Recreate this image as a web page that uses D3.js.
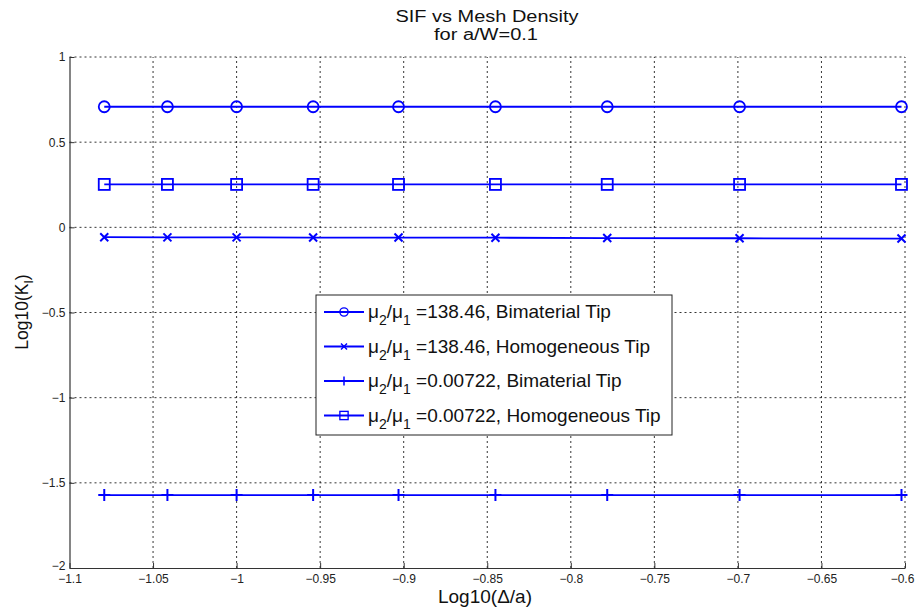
<!DOCTYPE html>
<html>
<head>
<meta charset="utf-8">
<script src="https://cdn.jsdelivr.net/npm/d3@7"></script>
<style>
  body { margin: 0; background: #fff; }
  svg { font-family: "Liberation Sans", Arial, sans-serif; }
  .grid line { stroke: #000; stroke-dasharray: 2,3; stroke-width: 0.8; }
  .tick text { fill: #222; font-size: 12px; }
</style>
</head>
<body>
<div id="chart"></div>
<script>
// log10 of element size ratio (1/12 ... 1/4)
var xValues = [-1.0792, -1.0414, -1.0, -0.9542, -0.9031, -0.8451, -0.7782, -0.6990, -0.6021];

var bimatHigh = [0.708, 0.708, 0.708, 0.708, 0.708, 0.708, 0.708, 0.708, 0.708];
var homoHigh  = [-0.058, -0.059, -0.059, -0.060, -0.060, -0.061, -0.063, -0.064, -0.066];
var bimatLow  = [-1.572, -1.572, -1.572, -1.572, -1.572, -1.572, -1.572, -1.572, -1.572];
var homoLow   = [0.252, 0.252, 0.252, 0.252, 0.252, 0.252, 0.252, 0.252, 0.252];

var seriesNames = [
  ["=138.46, Bimaterial Tip", "circle"],
  ["=138.46, Homogeneous Tip", "cross"],
  ["=0.00722, Bimaterial Tip", "plus"],
  ["=0.00722, Homogeneous Tip", "square"]
];
var seriesValues = [bimatHigh, homoHigh, bimatLow, homoLow];

var xTicks = [-1.1, -1.05, -1, -0.95, -0.9, -0.85, -0.8, -0.75, -0.7, -0.65, -0.6];
var yTicks = [-2, -1.5, -1, -0.5, 0, 0.5, 1];

var width = 915, height = 613;
var margin = {left: 69.5, right: 10, top: 57, bottom: 45};

var svg = d3.select('#chart')
  .append('svg')
  .attr('width', width)
  .attr('height', height);

var x = d3.scaleLinear().domain([-1.1, -0.6]).range([margin.left, 905]);
var y = d3.scaleLinear().domain([-2, 1]).range([568, margin.top]);

var blue = '#0000ff';

// grid
var grid = svg.append('g').attr('class', 'grid');
grid.selectAll('.vg')
  .data(xTicks.slice(1))
  .enter().append('line')
  .attr('x1', function(d) { return x(d); })
  .attr('x2', function(d) { return x(d); })
  .attr('y1', y(-2))
  .attr('y2', y(1));
grid.selectAll('.hg')
  .data(yTicks.slice(1))
  .enter().append('line')
  .attr('x1', x(-1.1))
  .attr('x2', x(-0.6))
  .attr('y1', function(d) { return y(d); })
  .attr('y2', function(d) { return y(d); });

// axes (MATLAB style: ticks inside)
var xAxis = d3.axisBottom(x)
  .tickValues(xTicks)
  .tickFormat(d3.format('~g'))
  .tickSizeInner(-5)
  .tickSizeOuter(0)
  .tickPadding(9);
svg.append('g')
  .attr('transform', 'translate(0,' + y(-2) + ')')
  .call(xAxis)
  .call(function(g) {
    g.select('.domain').attr('stroke', '#333').attr('stroke-width', 1.2);
    g.selectAll('.tick line').attr('stroke', '#333');
    g.selectAll('.tick text').attr('dy', '0.5em');
    g.selectAll('.tick text').filter(function(d) { return d === -0.6; }).attr('dx', -3);
  });

var yAxis = d3.axisLeft(y)
  .tickValues(yTicks)
  .tickFormat(d3.format('~g'))
  .tickSizeInner(-5)
  .tickSizeOuter(0)
  .tickPadding(4);
svg.append('g')
  .attr('transform', 'translate(' + x(-1.1) + ',0)')
  .call(yAxis)
  .call(function(g) {
    g.select('.domain').attr('stroke', '#333').attr('stroke-width', 1.2);
    g.selectAll('.tick line').attr('stroke', '#333');
    g.selectAll('.tick text').filter(function(d) { return d === -2; }).attr('dy', '0.1em');
  });

// series
var line = d3.line()
  .x(function(d) { return x(d[0]); })
  .y(function(d) { return y(d[1]); });

function drawMarker(g, type, cx, cy) {
  if (type === 'circle') {
    g.append('circle').attr('cx', cx).attr('cy', cy).attr('r', 5.5)
      .attr('fill', 'none').attr('stroke', blue).attr('stroke-width', 1.8);
  } else if (type === 'square') {
    g.append('rect').attr('x', cx - 5.5).attr('y', cy - 5.5)
      .attr('width', 11).attr('height', 11)
      .attr('fill', 'none').attr('stroke', blue).attr('stroke-width', 1.8);
  } else if (type === 'cross') {
    var s = 4;
    g.append('path')
      .attr('d', 'M' + (cx - s) + ',' + (cy - s) + 'L' + (cx + s) + ',' + (cy + s) +
                 'M' + (cx - s) + ',' + (cy + s) + 'L' + (cx + s) + ',' + (cy - s))
      .attr('stroke', blue).attr('stroke-width', 2);
  } else if (type === 'plus') {
    var p = 6;
    g.append('path')
      .attr('d', 'M' + (cx - p) + ',' + cy + 'L' + (cx + p) + ',' + cy +
                 'M' + cx + ',' + (cy - p) + 'L' + cx + ',' + (cy + p))
      .attr('stroke', blue).attr('stroke-width', 2);
  }
}

seriesValues.forEach(function(vals, i) {
  var pts = xValues.map(function(xv, j) { return [xv, vals[j]]; });
  var g = svg.append('g');
  g.append('path')
    .datum(pts)
    .attr('d', line)
    .attr('fill', 'none')
    .attr('stroke', blue)
    .attr('stroke-width', 1.8);
  pts.forEach(function(p) {
    drawMarker(g, seriesNames[i][1], x(p[0]), y(p[1]));
  });
});

// legend
var legX = 316, legY = 295, legW = 356, legH = 140, rowH = 34.5;
var legend = svg.append('g');
legend.append('rect')
  .attr('x', legX).attr('y', legY)
  .attr('width', legW).attr('height', legH)
  .attr('fill', '#fff').attr('stroke', '#222').attr('stroke-width', 1);

seriesNames.forEach(function(s, i) {
  var cy = legY + 17 + i * rowH;
  var row = legend.append('g');
  row.append('line')
    .attr('x1', legX + 8).attr('x2', legX + 48)
    .attr('y1', cy).attr('y2', cy)
    .attr('stroke', blue).attr('stroke-width', 1.8);
  var mg = row.append('g').attr('transform', 'translate(' + (legX + 28) + ',' + cy + ') scale(0.75) translate(' + (-(legX + 28)) + ',' + (-cy) + ')');
  drawMarker(mg, s[1], legX + 28, cy);
  var t = row.append('text')
    .attr('x', legX + 52)
    .attr('y', cy + 6)
    .attr('font-size', '19px')
    .attr('fill', '#111');
  t.append('tspan').text('\u03bc');
  t.append('tspan').attr('font-size', '14px').attr('dy', 7).text('2');
  t.append('tspan').attr('dy', -7).text('/\u03bc');
  t.append('tspan').attr('font-size', '14px').attr('dy', 7).text('1');
  t.append('tspan').attr('dy', -7).text(' ' + s[0]);
});

// titles
svg.append('text')
  .attr('x', 487).attr('y', 22)
  .attr('text-anchor', 'middle')
  .attr('font-size', '16px')
  .attr('textLength', 183)
  .attr('lengthAdjust', 'spacingAndGlyphs')
  .attr('fill', '#111')
  .text('SIF vs Mesh Density');
svg.append('text')
  .attr('x', 486).attr('y', 40)
  .attr('text-anchor', 'middle')
  .attr('font-size', '16px')
  .attr('textLength', 104)
  .attr('lengthAdjust', 'spacingAndGlyphs')
  .attr('fill', '#111')
  .text('for a/W=0.1');

svg.append('text')
  .attr('x', 485).attr('y', 603)
  .attr('text-anchor', 'middle')
  .attr('font-size', '19px')
  .attr('fill', '#111')
  .text('Log10(\u0394/a)');

var yl = svg.append('text')
  .attr('transform', 'translate(28,312) rotate(-90)')
  .attr('text-anchor', 'middle')
  .attr('font-size', '17.5px')
  .attr('fill', '#111');
yl.append('tspan').text('Log10(K');
yl.append('tspan').attr('font-size', '12px').attr('dy', 5).text('I');
yl.append('tspan').attr('dy', -5).text(')');
</script>
</body>
</html>
